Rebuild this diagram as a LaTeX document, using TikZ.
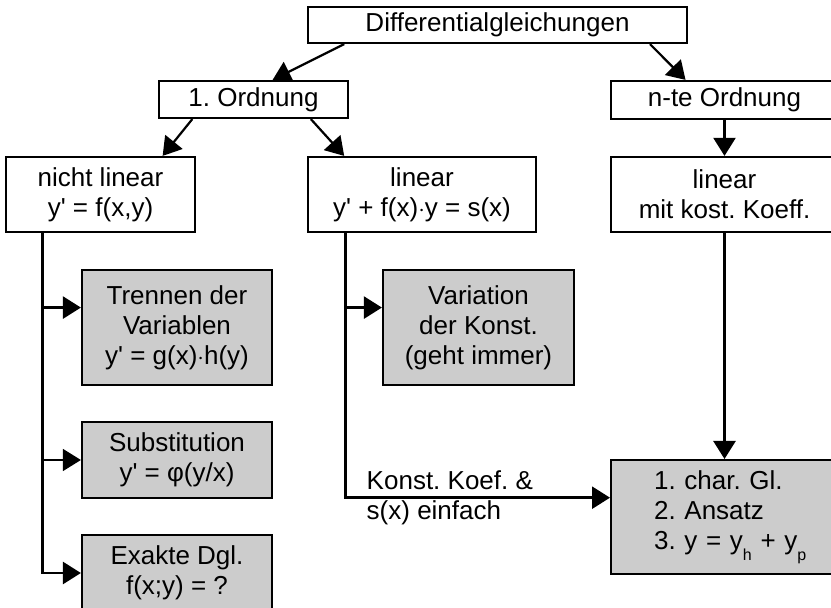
\documentclass[tikz,border=0pt]{standalone}
\usepackage{fontspec}
\setmainfont{Liberation Sans}
\usetikzlibrary{calc}
\usetikzlibrary{arrows.meta}
\definecolor{boxgrau}{RGB}{204,204,204}
\newcommand{\strich}{\textquotesingle}

\begin{document}
\frenchspacing
\begin{tikzpicture}[x=0.5pt, y=-0.5pt,
	every node/.style={font=\fontsize{13}{15}\selectfont},
	kasten/.style={draw, line width=1.1pt, rectangle, inner sep=0pt, align=center},
	graukasten/.style={kasten, fill=boxgrau},
	pfeil/.style={line width=1.1pt, -{Triangle[length=9pt,width=11pt]}},
	ast/.style={line width=1.3pt, -{Triangle[length=9pt,width=11pt]}}]
				\useasboundingbox (0,0) rectangle (831,608);
				
				% Oberste Ebenen
				\node[kasten, minimum width=189.5pt, minimum height=18pt] (dgl) at (497.5,25) {Differentialgleichungen};
				\node[kasten, minimum width=94.5pt, minimum height=18.5pt] (ord1) at (253.5,99.5) {1. Ordnung};
				\node[kasten, minimum width=113.5pt, minimum height=19pt] (ordn) at (724.5,100) {n-te Ordnung};
				
				% Zweite Ebene
				\node[kasten, minimum width=94.5pt, minimum height=37.5pt] (nlin) at (100.5,194.5) {nicht linear\\y\strich{} = f(x,y)};
				\node[kasten, minimum width=114pt, minimum height=37.5pt] (lin) at (422,194.5) {linear\\y\strich{} + f(x)$\cdot$y = s(x)};
				\node[kasten, minimum width=113.5pt, minimum height=37.5pt] (linkk) at (724.5,194.5) {linear\\mit kost. Koeff.};
				
				% Loesungsverfahren (grau)
				\node[graukasten, minimum width=95pt, minimum height=57.5pt] (trenn) at (177,327.5) {Trennen der\\Variablen\\y\strich{} = g(x)$\cdot$h(y)};
				\node[graukasten, minimum width=95pt, minimum height=38pt] (subst) at (177,460) {Substitution\\y\strich{} = φ(y/x)};
				\node[graukasten, minimum width=95pt, minimum height=38pt] (exakt) at (177,573) {Exakte Dgl.\\f(x;y) = ?};
				\node[graukasten, minimum width=95.5pt, minimum height=57.5pt] (varkon) at (478.5,327.5) {Variation\\der Konst.\\(geht immer)};
				\node[graukasten, anchor=north west, minimum height=57pt, inner xsep=21.5pt, text width=110pt, align=left] (ansatz) at (610,459)
				{1. char. Gl.\\2. Ansatz\\3. y = y\raisebox{-0.4em}{\fontsize{8}{8}\selectfont h} + y\raisebox{-0.4em}{\fontsize{8}{8}\selectfont p}};
				
				% Pfeile von oben
				\draw[pfeil] ($(dgl.south west)!0.098!(dgl.south east)$) -- ($(ord1.north west)!0.60!(ord1.north east)$);
				\draw[pfeil] ($(dgl.south west)!0.90!(dgl.south east)$) -- ($(ordn.north west)!0.33!(ordn.north east)$);
				\draw[pfeil] ($(ord1.south west)!0.18!(ord1.south east)$) -- ($(nlin.north west)!0.825!(nlin.north east)$);
				\draw[pfeil] ($(ord1.south west)!0.80!(ord1.south east)$) -- ($(lin.north west)!0.162!(lin.north east)$);
				\draw[pfeil] (ordn.south) -- (linkk.north);
				
				% Aeste nach unten
				\coordinate (nlx) at ($(nlin.south west)!0.196!(nlin.south east)$);
				\coordinate (linx) at ($(lin.south west)!0.167!(lin.south east)$);
				\coordinate (trennin) at ($(trenn.north west)!0.33!(trenn.south west)$);
				\coordinate (varin) at ($(varkon.north west)!0.33!(varkon.south west)$);
				\coordinate (ansatzin) at ($(ansatz.north west)!0.333!(ansatz.south west)$);
				
				\draw[ast] (nlx) |- (exakt.west);
				\draw[ast] (nlx |- trennin) -- (trennin);
				\draw[ast, line width=0.65pt] (nlx |- subst.west) -- (subst.west);
				
				\draw[ast] (linx) |- (ansatzin);
				\draw[ast] (linx |- varin) -- (varin);
				\node[anchor=west, inner sep=0pt, align=left] (konst) at ([xshift=10.5pt]linx |- ansatzin) {Konst. Koef. \&\\s(x) einfach};
				
				\draw[ast] (linkk.south) -- (linkk.south |- ansatz.north);
			\end{tikzpicture}
\end{document}
